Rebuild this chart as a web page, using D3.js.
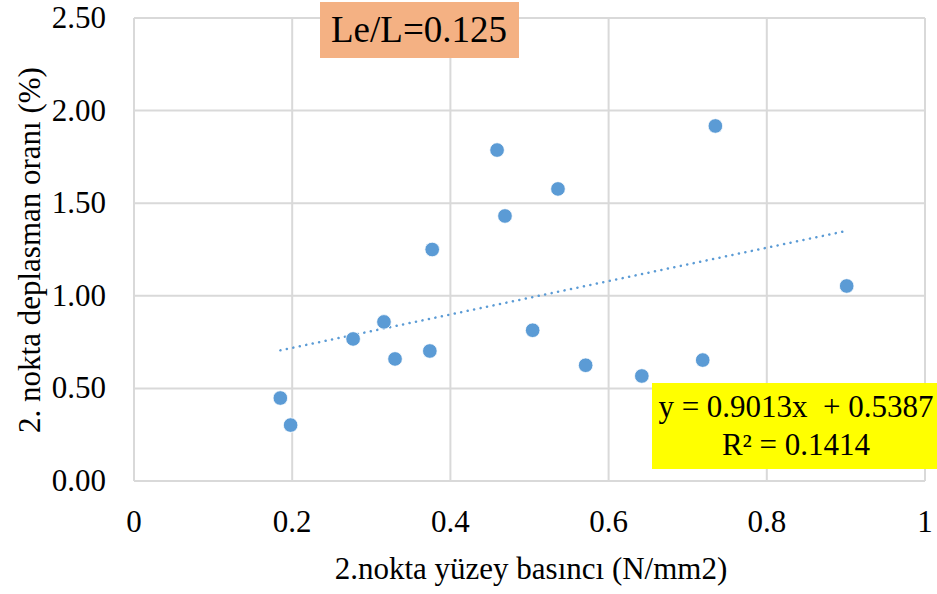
<!DOCTYPE html>
<html><head><meta charset="utf-8">
<script src="https://cdn.jsdelivr.net/npm/d3@7"></script>
<style>
body{margin:0;background:#fff}
#wrap{position:relative;width:937px;height:594px;overflow:hidden}
svg{display:block;position:absolute;left:0;top:0}
.t{position:absolute;font-family:'Liberation Serif' !important;color:#000;white-space:pre;line-height:1.15;transform:translate(-50%,-50%)}
.r{transform:translate(-100%,-50%)}
</style>
</head><body><div id="wrap"><svg id="c" width="937" height="594"></svg></div>
<script>
const xVals = [0.185, 0.198, 0.277, 0.316, 0.330, 0.374, 0.377, 0.459, 0.469, 0.504, 0.536, 0.571, 0.642, 0.719, 0.735, 0.901];
const yVals = [0.448, 0.302, 0.767, 0.859, 0.659, 0.702, 1.250, 1.787, 1.431, 0.814, 1.577, 0.625, 0.567, 0.653, 1.917, 1.053];
const xTicks = [0, 0.2, 0.4, 0.6, 0.8, 1];
const yTicks = [0, 0.5, 1.0, 1.5, 2.0, 2.5];
const slope = 0.9013, intercept = 0.5387;
const eqText = "y = 0.9013x  + 0.5387";
const r2Text = "R² = 0.1414";
const title = "Le/L=0.125";
const xLabel = "2.nokta yüzey basıncı (N/mm2)";
const yLabel = "2. nokta deplasman oranı (%)";

const wrap = d3.select("#wrap");
const svg = d3.select("#c");
const x = d3.scaleLinear().domain([0,1]).range([134,925]);
const y = d3.scaleLinear().domain([0,2.5]).range([481,18]);
const grid = "#d9d9d9";

svg.append("g").selectAll("line").data(yTicks).join("line")
  .attr("x1",x(0)).attr("x2",x(1)).attr("y1",d=>y(d)).attr("y2",d=>y(d))
  .attr("stroke",grid).attr("stroke-width",2);
svg.append("g").selectAll("line").data(xTicks).join("line")
  .attr("y1",y(0)).attr("y2",y(2.5)).attr("x1",d=>x(d)).attr("x2",d=>x(d))
  .attr("stroke",grid).attr("stroke-width",2);

const xmin = d3.min(xVals), xmax = d3.max(xVals);
svg.append("line").attr("x1",x(xmin)).attr("y1",y(slope*xmin+intercept))
  .attr("x2",x(xmax)).attr("y2",y(slope*xmax+intercept))
  .attr("stroke","#5B9BD5").attr("stroke-width",2.5).attr("stroke-dasharray","0.1 6.5")
  .attr("stroke-linecap","round");

svg.append("g").selectAll("circle").data(xVals.map((v,i)=>[v,yVals[i]])).join("circle")
  .attr("cx",d=>x(d[0])).attr("cy",d=>y(d[1])).attr("r",7.3)
  .attr("fill","#5B9BD5").attr("stroke","#fff").attr("stroke-width",0.8);

svg.append("rect").attr("x",320).attr("y",2).attr("width",199).attr("height",56).attr("fill","#F4B183");
svg.append("rect").attr("x",652).attr("y",383).attr("width",285).attr("height",86).attr("fill","#FFFF00");

function label(cls, left, top, size, text, extra){
  const d = wrap.append("div").attr("class","t "+cls)
    .style("left",left+"px").style("top",top+"px").style("font-size",size+"px")
    .style("font-family","'Liberation Serif'","important").text(text);
  if (extra) d.style("transform",extra);
  return d;
}

yTicks.forEach(v => label("r", 106, y(v), 31, v.toFixed(2)));
xTicks.forEach(v => label("", x(v), 522, 31, String(v)));
label("", 531, 569, 31, xLabel);
label("", 30, 250, 31, yLabel, "translate(-50%,-50%) rotate(-90deg)");
label("", 419, 30, 37, title);
label("", 796, 407, 31, eqText);
label("", 796, 445, 31, r2Text);
</script></body></html>
